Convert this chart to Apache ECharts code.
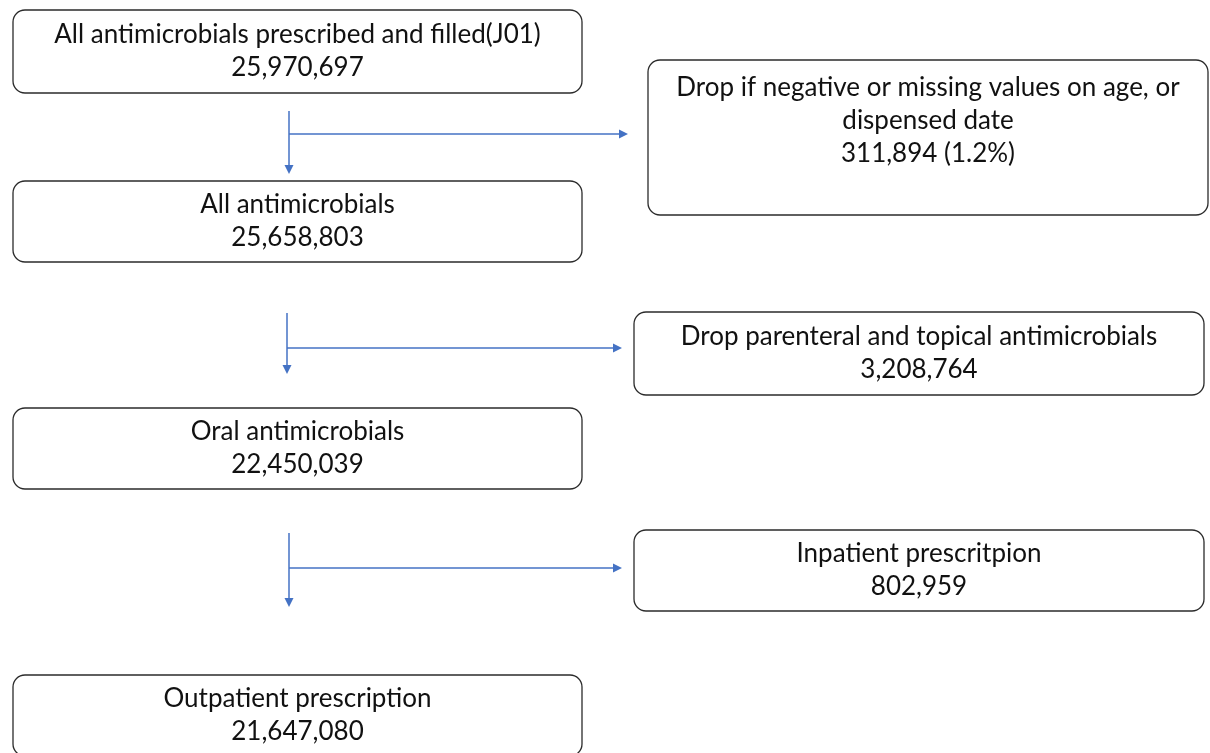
<!DOCTYPE html>
<html>
<head>
<meta charset="utf-8">
<script src="https://cdn.jsdelivr.net/npm/echarts@6/dist/echarts.min.js"></script>
<style>
html,body{margin:0;padding:0;background:#fff;}
#chart{width:1210px;height:753px;}
</style>
</head>
<body>
<div id="chart"></div>
<script>
// ---- Data ----
var stepLabels = [
  'All antimicrobials prescribed and filled(J01)',
  'All antimicrobials',
  'Oral antimicrobials',
  'Outpatient prescription'
];
var stepCounts = ['25,970,697', '25,658,803', '22,450,039', '21,647,080'];
var excludedLabels = [
  'Drop if negative or missing values on age, or\ndispensed date',
  'Drop parenteral and topical antimicrobials',
  'Inpatient prescritpion'
];
var excludedCounts = ['311,894 (1.2%)', '3,208,764', '802,959'];

// ---- Layout (positions in chart units: x 0-1210, y 0-753) ----
var stepBoxes = [
  [13, 10, 582, 93],
  [13, 181, 582, 262],
  [13, 408, 582, 489],
  [13, 675, 582, 756]
];
var excludedBoxes = [
  [648, 60, 1208, 215],
  [634, 312, 1204, 395],
  [634, 530, 1204, 611]
];
var excludedTextCenter = [121, null, null];
var arrows = [
  {vx: 289, vy0: 111, vy1: 174, hy: 134, hx1: 628},
  {vx: 287, vy0: 313, vy1: 374, hy: 348, hx1: 622},
  {vx: 289, vy0: 533, vy1: 607, hy: 568, hx1: 622}
];

var FONT = '26px Lato, "Open Sans", sans-serif';
var LINE_H = 33;
var ARROW_COLOR = '#4472C4';

var boxData = [];
stepLabels.forEach(function (l, i) {
  var b = stepBoxes[i];
  boxData.push([b[0], b[1], b[2], b[3], l + '\n' + stepCounts[i], (b[1] + b[3]) / 2]);
});
excludedLabels.forEach(function (l, i) {
  var b = excludedBoxes[i];
  var tc = excludedTextCenter[i] != null ? excludedTextCenter[i] : (b[1] + b[3]) / 2;
  boxData.push([b[0], b[1], b[2], b[3], l + '\n' + excludedCounts[i], tc]);
});
var arrowData = arrows.map(function (a) { return [a.vx, a.vy0, a.vy1, a.hy, a.hx1]; });

var chart = echarts.init(document.getElementById('chart'), null, {renderer: 'canvas'});
chart.setOption({
  backgroundColor: '#ffffff',
  animation: false,
  grid: {left: 0, right: 0, top: 0, bottom: 0},
  xAxis: {type: 'value', min: 0, max: 1210, show: false},
  yAxis: {type: 'value', min: 0, max: 753, inverse: true, show: false},
  series: [
    {
      type: 'custom',
      coordinateSystem: 'cartesian2d',
      data: boxData,
      encode: {x: [0, 2], y: [1, 3]},
      clip: false,
      renderItem: function (params, api) {
        var p0 = api.coord([api.value(0), api.value(1)]);
        var p1 = api.coord([api.value(2), api.value(3)]);
        var tc = api.coord([0, api.value(5)]);
        var txt = boxData[params.dataIndex][4];
        return {
          type: 'group',
          children: [
            {
              type: 'rect',
              shape: {x: p0[0], y: p0[1], width: p1[0] - p0[0], height: p1[1] - p0[1], r: 12},
              style: {fill: '#ffffff', stroke: '#2b2b2b', lineWidth: 1.3}
            },
            {
              type: 'text',
              style: {
                text: txt,
                x: (p0[0] + p1[0]) / 2,
                y: tc[1],
                align: 'center',
                verticalAlign: 'middle',
                font: FONT,
                lineHeight: LINE_H,
                fill: '#111111'
              }
            }
          ]
        };
      }
    },
    {
      type: 'custom',
      coordinateSystem: 'cartesian2d',
      data: arrowData,
      encode: {x: [0, 4], y: [1, 2]},
      clip: false,
      renderItem: function (params, api) {
        var vx = api.value(0), vy0 = api.value(1), vy1 = api.value(2), hy = api.value(3), hx1 = api.value(4);
        var top = api.coord([vx, vy0]);
        var bot = api.coord([vx, vy1]);
        var hl = api.coord([vx, hy]);
        var hr = api.coord([hx1, hy]);
        var ah = 9, aw = 4.5;
        return {
          type: 'group',
          children: [
            {type: 'line', shape: {x1: top[0], y1: top[1], x2: bot[0], y2: bot[1] - ah},
              style: {stroke: ARROW_COLOR, lineWidth: 1.5}},
            {type: 'polygon', shape: {points: [[bot[0] - aw, bot[1] - ah], [bot[0] + aw, bot[1] - ah], [bot[0], bot[1]]]},
              style: {fill: ARROW_COLOR}},
            {type: 'line', shape: {x1: hl[0], y1: hl[1], x2: hr[0] - ah, y2: hr[1]},
              style: {stroke: ARROW_COLOR, lineWidth: 1.5}},
            {type: 'polygon', shape: {points: [[hr[0] - ah, hr[1] - aw], [hr[0] - ah, hr[1] + aw], [hr[0], hr[1]]]},
              style: {fill: ARROW_COLOR}}
          ]
        };
      }
    }
  ]
});
</script>
</body>
</html>
